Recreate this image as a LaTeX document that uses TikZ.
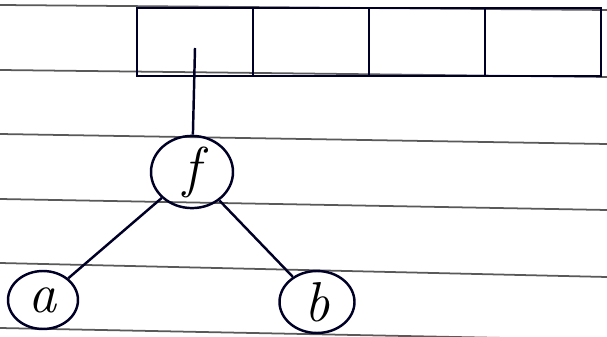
\documentclass[tikz,border=0pt]{standalone}
\usepackage{fontspec}
\usepackage{tikz}
\usetikzlibrary{positioning, shapes.geometric}

\begin{document}
\begin{tikzpicture}[x=0.02cm, y=-0.02cm,
    ink/.style={draw=black!85!blue, line width=1.4pt},
    rule/.style={draw=black!65, line width=1pt},
    cell/.style={ink, rectangle, minimum width=2.32cm, minimum height=1.36cm, inner sep=0pt, outer sep=0pt},
    vertex/.style={ink, ellipse, inner sep=0pt, font=\fontsize{32}{34}\selectfont\itshape}]
  % page and ruled lines of the notebook
  \useasboundingbox[fill=white] (0,0) rectangle (607,337);
  \draw[rule] (0,5) -- (607,10);
  \draw[rule] (0,70) -- (607,77);
  \draw[rule] (0,134) -- (607,144);
  \draw[rule] (0,199) -- (607,210);
  \draw[rule] (0,263) -- (607,277);
  \draw[rule] (0,328) -- (607,340);
  % array of four cells
  \node[cell] (c1) at (195,42) {};
  \node[cell, right=0pt of c1] (c2) {};
  \node[cell, right=0pt of c2] (c3) {};
  \node[cell, right=0pt of c3] (c4) {};
  \coordinate (ptr) at (195,48);
  % tree
  \node[vertex, minimum width=1.64cm, minimum height=1.36cm] (f) at (192,172) {f};
  \node[vertex, minimum width=1.4cm, minimum height=1.16cm] (a) at (43,300) {a};
  \node[vertex, minimum width=1.5cm, minimum height=1.24cm] (b) at (317,302) {b};
  \draw[ink] (ptr) -- (f);
  \draw[ink] (f) -- (a);
  \draw[ink] (f) -- (b);
\end{tikzpicture}
\end{document}
